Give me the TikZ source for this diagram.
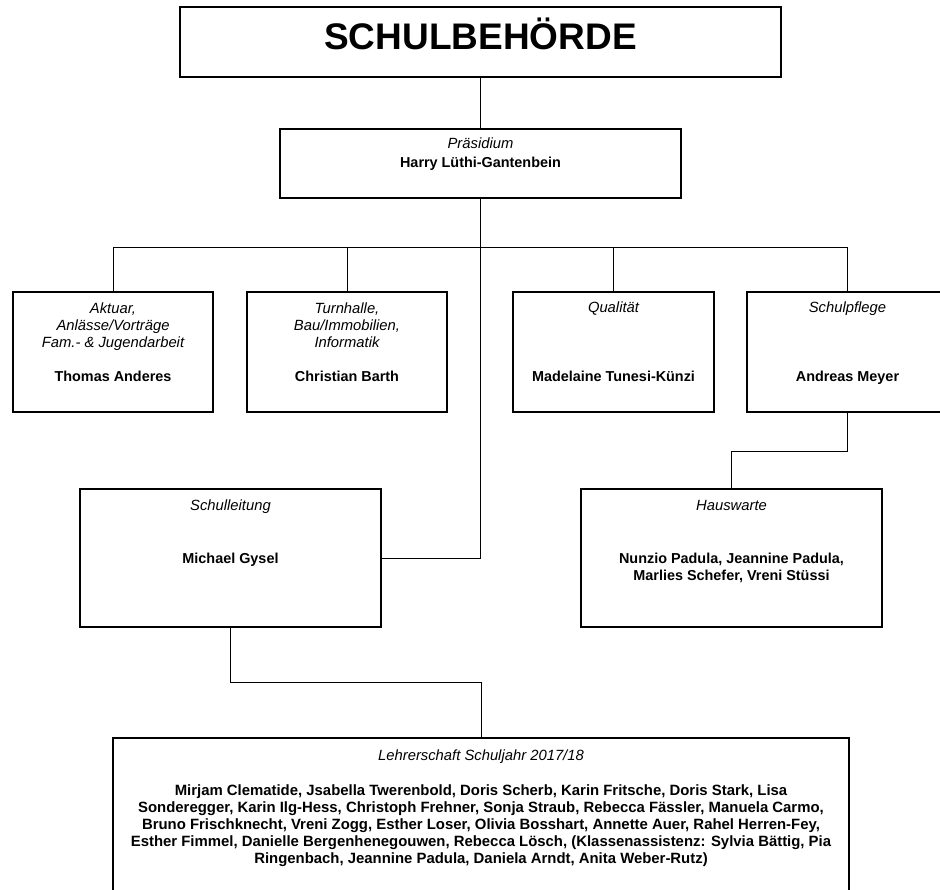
\documentclass[tikz,border=0pt]{standalone}
\usepackage{fontspec}
\setmainfont{Liberation Sans}
\begin{document}
\begin{tikzpicture}[x=1pt,y=-1pt,
  box/.style={draw, line width=1.2pt, rectangle, inner sep=0pt},
  conn/.style={line width=0.9pt},
  role/.style={font=\fontsize{14.8}{17}\selectfont\itshape, align=center, inner sep=0pt},
  pname/.style={font=\fontsize{14.4}{16.5}\selectfont\bfseries, align=center, inner sep=0pt},
  bigname/.style={font=\fontsize{14.9}{17}\selectfont\bfseries, align=center, inner sep=0pt},
  bigtitle/.style={font=\fontsize{37}{40}\selectfont\bfseries, inner sep=0pt}]
\useasboundingbox (0,0) rectangle (940,890);
\clip (0,0) rectangle (940,890);
% boxes
\node[box, minimum width=601pt, minimum height=70pt] (top) at (480.5,42) {};
\node[box, minimum width=401pt, minimum height=69pt] (pres) at (480.5,163.5) {};
\node[box, minimum width=200pt, minimum height=120pt] (b1) at (113,352) {};
\node[box, minimum width=200pt, minimum height=120pt] (b2) at (347,352) {};
\node[box, minimum width=201pt, minimum height=120pt] (b3) at (613.5,352) {};
\node[box, minimum width=201pt, minimum height=120pt] (b4) at (847.5,352) {};
\node[box, minimum width=301pt, minimum height=138pt] (sl) at (230.5,558) {};
\node[box, minimum width=301pt, minimum height=138pt] (hw) at (731.5,558) {};
\node[box, minimum width=736pt, minimum height=200pt] (lehr) at (481,838) {};
% texts
\node[bigtitle, anchor=base] (t0) at (480.5,50) {SCHULBEHÖRDE};
\node[role, anchor=base] (t1) at (480.5,149) {Präsidium};
\node[pname, anchor=base] (t2) at (480.5,168) {Harry Lüthi-Gantenbein};
\node[role, anchor=north] (r1) at (113,303) {Aktuar,\\Anlässe/Vorträge\\Fam.- \& Jugendarbeit};
\node[pname, anchor=base] (n1) at (113,382) {Thomas Anderes};
\node[role, anchor=north] (r2) at (347,303) {Turnhalle,\\Bau/Immobilien,\\Informatik};
\node[pname, anchor=base] (n2) at (347,382) {Christian Barth};
\node[role, anchor=base] (r3) at (613.5,313) {Qualität};
\node[pname, anchor=base] (n3) at (613.5,382) {Madelaine Tunesi-Künzi};
\node[role, anchor=base] (r4) at (847.5,313) {Schulpflege};
\node[pname, anchor=base] (n4) at (847.5,382) {Andreas Meyer};
\node[role, anchor=base] (r5) at (230.5,510) {Schulleitung};
\node[pname, anchor=base] (n5) at (230.5,563) {Michael Gysel};
\node[role, anchor=base] (r6) at (731.5,510) {Hauswarte};
\node[pname, anchor=north] (n6) at (731.5,553) {Nunzio Padula, Jeannine Padula,\\Marlies Schefer, Vreni Stüssi};
\node[role, anchor=base] (r7) at (481,760) {Lehrerschaft Schuljahr 2017/18};
\node[bigname, anchor=north] (n7) at (481,784) {Mirjam Clematide, Jsabella Twerenbold, Doris Scherb, Karin Fritsche, Doris Stark, Lisa\\
Sonderegger, Karin Ilg-Hess, Christoph Frehner, Sonja Straub, Rebecca Fässler, Manuela Carmo,\\
Bruno Frischknecht, Vreni Zogg, Esther Loser, Olivia Bosshart, Annette Auer, Rahel Herren-Fey,\\
Esther Fimmel, Danielle Bergenhenegouwen, Rebecca Lösch, (Klassenassistenz: Sylvia Bättig, Pia\\
Ringenbach, Jeannine Padula, Daniela Arndt, Anita Weber-Rutz)};
% connectors
\coordinate (bus) at (480.5,247);
\draw[conn] (top.south) -- (pres.north);
\draw[conn] (b1.north) -- (b1.north |- bus) -| (b4.north);
\draw[conn] (b2.north) -- (b2.north |- bus);
\draw[conn] (b3.north) -- (b3.north |- bus);
\draw[conn] (pres.south) |- (sl.east);
\draw[conn] (b4.south) -- ++(0,39) -| (hw.north);
\draw[conn] (sl.south) -- ++(0,55) -| (lehr.north);
\end{tikzpicture}
\end{document}
